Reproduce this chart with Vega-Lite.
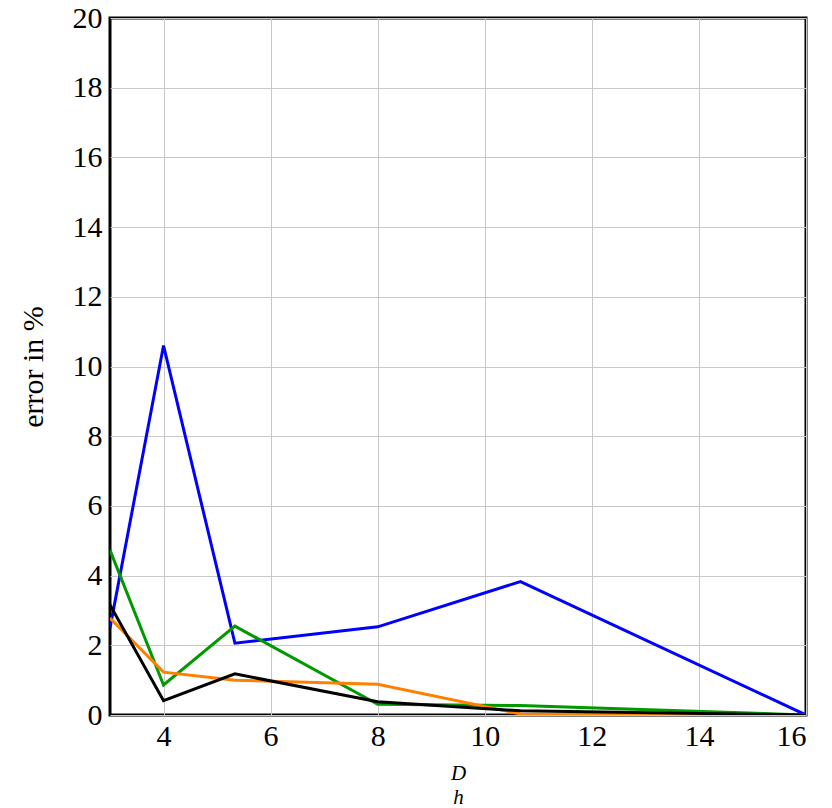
{
  "$schema": "https://vega.github.io/schema/vega-lite/v6.json",
  "width": 696,
  "height": 697,
  "autosize": {"type": "none"},
  "padding": {"left": 110, "top": 18, "right": 26, "bottom": 93},
  "background": "white",
  "config": {
    "view": {"stroke": "black", "strokeWidth": 3},
    "font": "Liberation Serif",
    "axis": {
      "grid": true,
      "gridColor": "#c8c8c8",
      "gridWidth": 1,
      "domain": false,
      "ticks": false,
      "labelFont": "Liberation Serif",
      "labelFontSize": 30,
      "labelColor": "black",
      "titleFont": "Liberation Serif",
      "titleColor": "black",
      "titleFontWeight": "normal"
    }
  },
  "data": {
    "values": [
      {"x": 3, "y": 2.5, "s": "blue"},
      {"x": 4, "y": 10.6, "s": "blue"},
      {"x": 5.333, "y": 2.06, "s": "blue"},
      {"x": 8, "y": 2.53, "s": "blue"},
      {"x": 10.667, "y": 3.83, "s": "blue"},
      {"x": 16, "y": 0, "s": "blue"},
      {"x": 3, "y": 4.73, "s": "green"},
      {"x": 4, "y": 0.86, "s": "green"},
      {"x": 5.333, "y": 2.55, "s": "green"},
      {"x": 8, "y": 0.31, "s": "green"},
      {"x": 10.667, "y": 0.27, "s": "green"},
      {"x": 16, "y": 0, "s": "green"},
      {"x": 3, "y": 2.78, "s": "orange"},
      {"x": 4, "y": 1.23, "s": "orange"},
      {"x": 5.333, "y": 1.0, "s": "orange"},
      {"x": 8, "y": 0.88, "s": "orange"},
      {"x": 10.667, "y": 0.03, "s": "orange"},
      {"x": 16, "y": 0, "s": "orange"},
      {"x": 3, "y": 3.16, "s": "black"},
      {"x": 4, "y": 0.41, "s": "black"},
      {"x": 5.333, "y": 1.18, "s": "black"},
      {"x": 8, "y": 0.38, "s": "black"},
      {"x": 10.667, "y": 0.12, "s": "black"},
      {"x": 16, "y": 0, "s": "black"}
    ]
  },
  "mark": {"type": "line", "strokeWidth": 3, "clip": true},
  "encoding": {
    "x": {
      "field": "x",
      "type": "quantitative",
      "scale": {"domain": [3, 16], "nice": false, "zero": false},
      "axis": {
        "values": [4, 6, 8, 10, 12, 14, 16],
        "labelPadding": 6,
        "title": ["D", "h"],
        "titleFontSize": 21,
        "titleFontStyle": "italic",
        "titleLineHeight": 24,
        "titlePadding": 11
      }
    },
    "y": {
      "field": "y",
      "type": "quantitative",
      "scale": {"domain": [0, 20], "nice": false},
      "axis": {
        "values": [0, 2, 4, 6, 8, 10, 12, 14, 16, 18, 20],
        "labelPadding": 8,
        "title": "error in %",
        "titleFontSize": 30,
        "titlePadding": 24
      }
    },
    "color": {
      "field": "s",
      "type": "nominal",
      "scale": {"domain": ["blue", "green", "orange", "black"], "range": ["#0000ff", "#009900", "#ff8000", "#000000"]},
      "legend": null
    }
  }
}
